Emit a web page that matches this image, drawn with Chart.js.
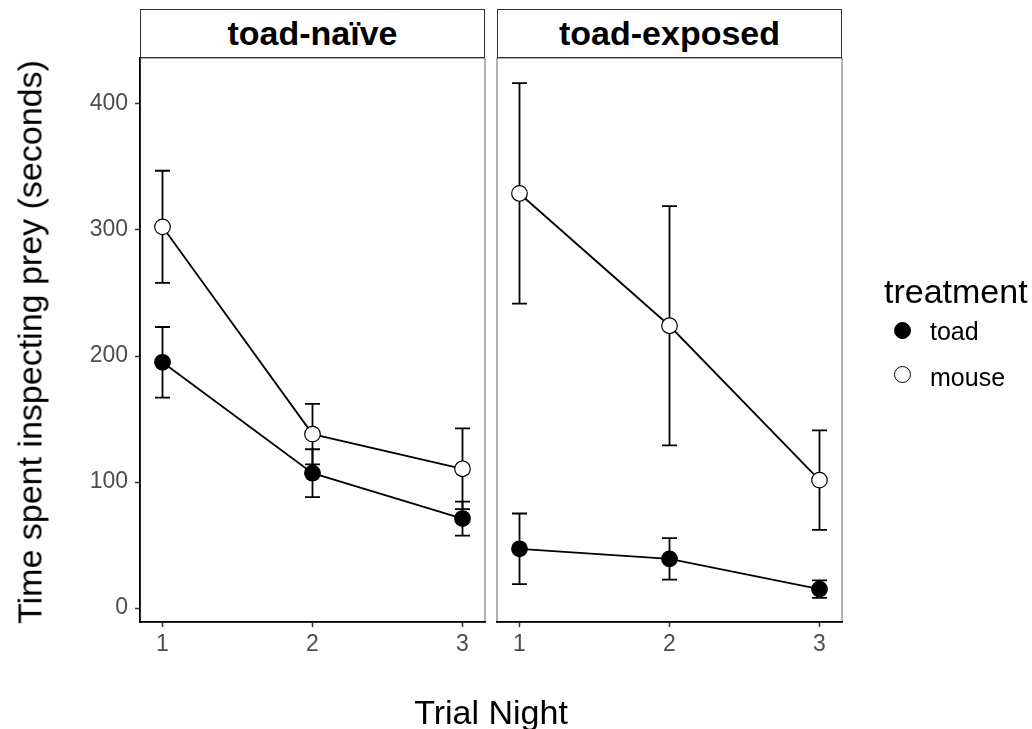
<!DOCTYPE html>
<html>
<head>
<meta charset="utf-8">
<script src="https://cdn.jsdelivr.net/npm/chart.js@4.4.0/dist/chart.umd.min.js"></script>
<style>
  html, body { margin: 0; padding: 0; background: #fff; }
  #wrap { position: relative; width: 1032px; height: 729px; overflow: hidden;
          font-family: "Liberation Sans", Arial, Helvetica, sans-serif; color: #000; }
  #wrap canvas { position: absolute; left: 0; top: 0; }
  .strip { position: absolute; top: 9px; height: 49px; box-sizing: border-box;
           border: 1px solid #333; background: #fff; font-weight: bold; font-size: 34px;
           text-align: center; line-height: 47px; white-space: nowrap; }
  .ytitle { position: absolute; left: 30px; top: 342px; font-size: 34px; white-space: nowrap;
            transform: translate(-50%, -50%) rotate(-90deg); }
  .xtitle { position: absolute; left: 491px; top: 712px; font-size: 34px; white-space: nowrap;
            transform: translate(-50%, -50%); }
  .legtitle { position: absolute; left: 884px; top: 291px; font-size: 34px; white-space: nowrap;
              transform: translateY(-50%); }
  .key { position: absolute; left: 894px; width: 17px; height: 17px; box-sizing: border-box;
         border-radius: 50%; border: 1.3px solid #000; }
  .keylab { position: absolute; left: 930px; font-size: 25px; white-space: nowrap; transform: translateY(-50%); }
</style>
</head>
<body>
<div id="wrap">
  <canvas id="naive" width="1032" height="729"></canvas>
  <canvas id="exposed" width="1032" height="729"></canvas>
  <div class="strip" style="left:140px;width:345px;">toad-naïve</div>
  <div class="strip" style="left:497px;width:345px;">toad-exposed</div>
  <div class="ytitle">Time spent inspecting prey (seconds)</div>
  <div class="xtitle">Trial Night</div>
  <div class="legtitle">treatment</div>
  <div class="key" style="top:322px;background:#000;"></div>
  <div class="keylab" style="top:331px;">toad</div>
  <div class="key" style="top:366px;background:#fff;"></div>
  <div class="keylab" style="top:377px;">mouse</div>
</div>
<script>
// Trial nights and y-axis ticks
const nights = [1, 2, 3];
const yTicks = [0, 100, 200, 300, 400];

// Mean time spent inspecting prey (s) and standard errors, toad-naïve group
const naiveToad = [195, 107, 71];
const naiveToadSE = [28, 19, 13.5];
const naiveMouse = [302.5, 138, 110.5];
const naiveMouseSE = [44.5, 24, 32];

// Same measures, toad-exposed group
const exposedToad = [47, 39, 15];
const exposedToadSE = [28, 16.5, 7];
const exposedMouse = [329, 224, 101.5];
const exposedMouseSE = [87.5, 95, 39.5];

const FONT = '"Liberation Sans", Arial, Helvetica, sans-serif';

// Grey panel outline, drawn beneath the axis lines
const panelBorder = {
  id: 'panelBorder',
  beforeDraw(chart) {
    const { ctx, chartArea: a } = chart;
    ctx.save();
    ctx.strokeStyle = '#7f7f7f';
    ctx.lineWidth = 1.2;
    ctx.strokeRect(a.left, a.top, a.right - a.left, a.bottom - a.top);
    ctx.restore();
  }
};

// Mean ± SE whiskers with caps, drawn before the lines and points
const errorBars = {
  id: 'errorBars',
  beforeDatasetsDraw(chart) {
    const { ctx, scales: { x, y } } = chart;
    ctx.save();
    ctx.strokeStyle = '#000';
    ctx.lineWidth = 1.8;
    chart.data.datasets.forEach(ds => {
      ds.data.forEach((p, i) => {
        const px = x.getPixelForValue(p.x);
        const top = y.getPixelForValue(p.y + ds.se[i]);
        const bot = y.getPixelForValue(p.y - ds.se[i]);
        ctx.beginPath();
        ctx.moveTo(px, top); ctx.lineTo(px, bot);
        ctx.moveTo(px - 7.5, top); ctx.lineTo(px + 7.5, top);
        ctx.moveTo(px - 7.5, bot); ctx.lineTo(px + 7.5, bot);
        ctx.stroke();
      });
    });
    ctx.restore();
  }
};

function series(label, values, se, fill) {
  return {
    label,
    data: nights.map((n, i) => ({ x: n, y: values[i] })),
    se,
    borderColor: '#000',
    borderWidth: 1.8,
    backgroundColor: fill,
    pointBackgroundColor: fill,
    pointBorderColor: '#000',
    pointBorderWidth: 1.2,
    pointRadius: 7.8,
    pointHoverRadius: 7.8,
    tension: 0,
    fill: false
  };
}

function makePanel(id, toad, toadSE, mouse, mouseSE, showY, padding) {
  return new Chart(document.getElementById(id), {
    type: 'line',
    data: {
      datasets: [
        series('toad', toad, toadSE, '#000'),
        series('mouse', mouse, mouseSE, '#fff')
      ]
    },
    plugins: [panelBorder, errorBars],
    options: {
      responsive: false,
      animation: false,
      devicePixelRatio: 1,
      layout: { padding },
      plugins: { legend: { display: false }, tooltip: { enabled: false }, title: { display: false } },
      scales: {
        x: {
          type: 'linear', min: 0.85, max: 3.15,
          afterBuildTicks: s => { s.ticks = nights.map(v => ({ value: v })); },
          afterFit: s => { s.height = 107; },
          grid: { drawOnChartArea: false, drawTicks: true, tickLength: 5, color: '#333', tickWidth: 1.5 },
          border: { display: true, color: '#000', width: 1.8 },
          ticks: { font: { family: FONT, size: 23 }, color: '#4d4d4d', padding: 4, maxRotation: 0, autoSkip: false }
        },
        y: {
          display: showY,
          type: 'linear', min: -11.1, max: 436.5,
          afterBuildTicks: s => { s.ticks = yTicks.map(v => ({ value: v })); },
          afterFit: s => { s.width = showY ? 140 : 0; },
          grid: { drawOnChartArea: false, drawTicks: true, tickLength: 5, color: '#333', tickWidth: 1.5 },
          border: { display: true, color: '#000', width: 1.8 },
          ticks: { font: { family: FONT, size: 23 }, color: '#4d4d4d', padding: 7 }
        }
      }
    }
  });
}

makePanel('naive', naiveToad, naiveToadSE, naiveMouse, naiveMouseSE, true,
  { left: 0, right: 547, top: 58, bottom: 0 });
makePanel('exposed', exposedToad, exposedToadSE, exposedMouse, exposedMouseSE, false,
  { left: 497, right: 190, top: 58, bottom: 0 });
</script>
</body>
</html>
